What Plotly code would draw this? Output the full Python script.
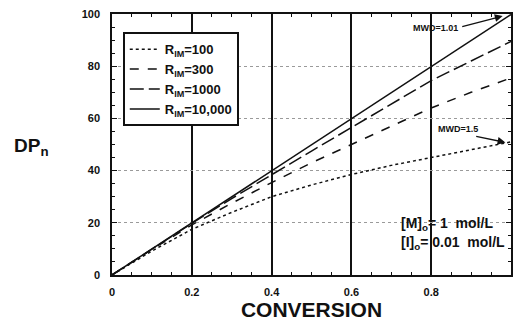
import plotly.graph_objects as go

# Conversion values and number-average degree of polymerization for each R_IM
conversion = [0.0, 0.1, 0.2, 0.3, 0.4, 0.5, 0.6, 0.7, 0.8, 0.9, 1.0]
dp_r100 = [0.0, 9.2, 17.5, 24.0, 30.0, 34.5, 38.5, 42.0, 45.0, 48.0, 51.0]
dp_r300 = [0.0, 9.8, 19.2, 27.5, 35.4, 43.0, 50.0, 57.0, 64.0, 70.0, 75.5]
dp_r1000 = [0.0, 10.0, 19.8, 29.3, 38.5, 47.5, 56.5, 65.5, 74.5, 82.0, 89.5]
dp_r10000 = [0.0, 10.0, 20.0, 30.0, 40.0, 50.0, 60.0, 70.0, 80.0, 90.0, 99.8]

series_names = ["R<sub>IM</sub>=100", "R<sub>IM</sub>=300",
                "R<sub>IM</sub>=1000", "R<sub>IM</sub>=10,000"]
series_values = [dp_r100, dp_r300, dp_r1000, dp_r10000]
series_dash = ["dot", "dash", "14px,5px", "solid"]

x_ticks = [0, 0.2, 0.4, 0.6, 0.8]
x_tick_text = ["0", "0.2", "0.4", "0.6", "0.8"]
y_ticks = [0, 20, 40, 60, 80, 100]

FONT = "Liberation Sans, Arial, Helvetica, sans-serif"
INK = "#111111"

fig = go.Figure()
for name, vals, dash in zip(series_names, series_values, series_dash):
    fig.add_trace(go.Scatter(
        x=conversion, y=vals, mode="lines", name=name,
        line=dict(color=INK, width=1.5, dash=dash),
    ))

def bold(s):
    return "<b>" + s + "</b>"

fig.update_layout(
    width=514, height=321,
    margin=dict(l=112, r=1, t=14, b=46),
    paper_bgcolor="white", plot_bgcolor="white",
    font=dict(family=FONT, color=INK),
    showlegend=True,
    legend=dict(
        x=0.027, y=0.93, xanchor="left", yanchor="top",
        bgcolor="white", bordercolor=INK, borderwidth=2,
        font=dict(family=FONT, size=13, color=INK, weight="bold"),
        tracegroupgap=0, itemwidth=30,
    ),
    xaxis=dict(
        range=[0, 1.0], tickvals=x_ticks, ticktext=[bold(t) for t in x_tick_text],
        tickfont=dict(size=11), ticks="inside", ticklen=5, tickcolor=INK,
        minor=dict(ticks="inside", dtick=0.05, ticklen=3, tickcolor=INK, showgrid=False),
        showgrid=True, gridcolor=INK, gridwidth=1.5,
        showline=True, linecolor=INK, linewidth=1.5, mirror="allticks",
        zeroline=False, ticklabelstandoff=6,
        title=dict(text="<b>CONVERSION</b>", font=dict(size=21), standoff=1),
    ),
    yaxis=dict(
        range=[0, 100], tickvals=y_ticks, ticktext=[bold(str(v)) for v in y_ticks],
        tickfont=dict(size=11), ticks="inside", ticklen=5, tickcolor=INK,
        minor=dict(ticks="inside", dtick=5, ticklen=3, tickcolor=INK, showgrid=False),
        showgrid=True, gridcolor="#9a9a9a", gridwidth=1, griddash="dot",
        showline=True, linecolor=INK, linewidth=1.5, mirror="allticks",
        zeroline=False, ticklabelstandoff=8,
    ),
)

# y-axis title written horizontally to the left of the tick labels
fig.add_annotation(
    xref="paper", yref="y", x=-0.25, y=49.0, xanchor="left", yanchor="middle",
    text="<b>DP<sub>n</sub></b>", showarrow=False, font=dict(size=19, color=INK),
)

# MWD callouts with arrows
fig.add_annotation(
    x=0.812, y=94.6, xref="x", yref="y", text="<b>MWD=1.01</b>",
    showarrow=False, font=dict(size=9, color=INK),
)
fig.add_annotation(
    x=0.979, y=99.2, ax=0.874, ay=95.0, xref="x", yref="y", axref="x", ayref="y",
    text="", showarrow=True, arrowhead=2, arrowsize=1.2, arrowwidth=1.3, arrowcolor=INK,
)
fig.add_annotation(
    x=0.867, y=55.8, xref="x", yref="y", text="<b>MWD=1.5</b>",
    showarrow=False, font=dict(size=9, color=INK),
)
fig.add_annotation(
    x=0.986, y=50.8, ax=0.909, ay=53.2, xref="x", yref="y", axref="x", ayref="y",
    text="", showarrow=True, arrowhead=2, arrowsize=1.2, arrowwidth=1.3, arrowcolor=INK,
)

# Initial concentrations
fig.add_annotation(
    x=0.72, y=19.6, xref="x", yref="y", xanchor="left", yanchor="middle",
    text="<b>[M]<sub>o</sub>= 1&nbsp; mol/L</b>", showarrow=False, font=dict(size=14, color=INK),
)
fig.add_annotation(
    x=0.72, y=12.3, xref="x", yref="y", xanchor="left", yanchor="middle",
    text="<b>[I]<sub>o</sub>= 0.01&nbsp; mol/L</b>", showarrow=False, font=dict(size=14, color=INK),
)

fig.write_html("out.html")
